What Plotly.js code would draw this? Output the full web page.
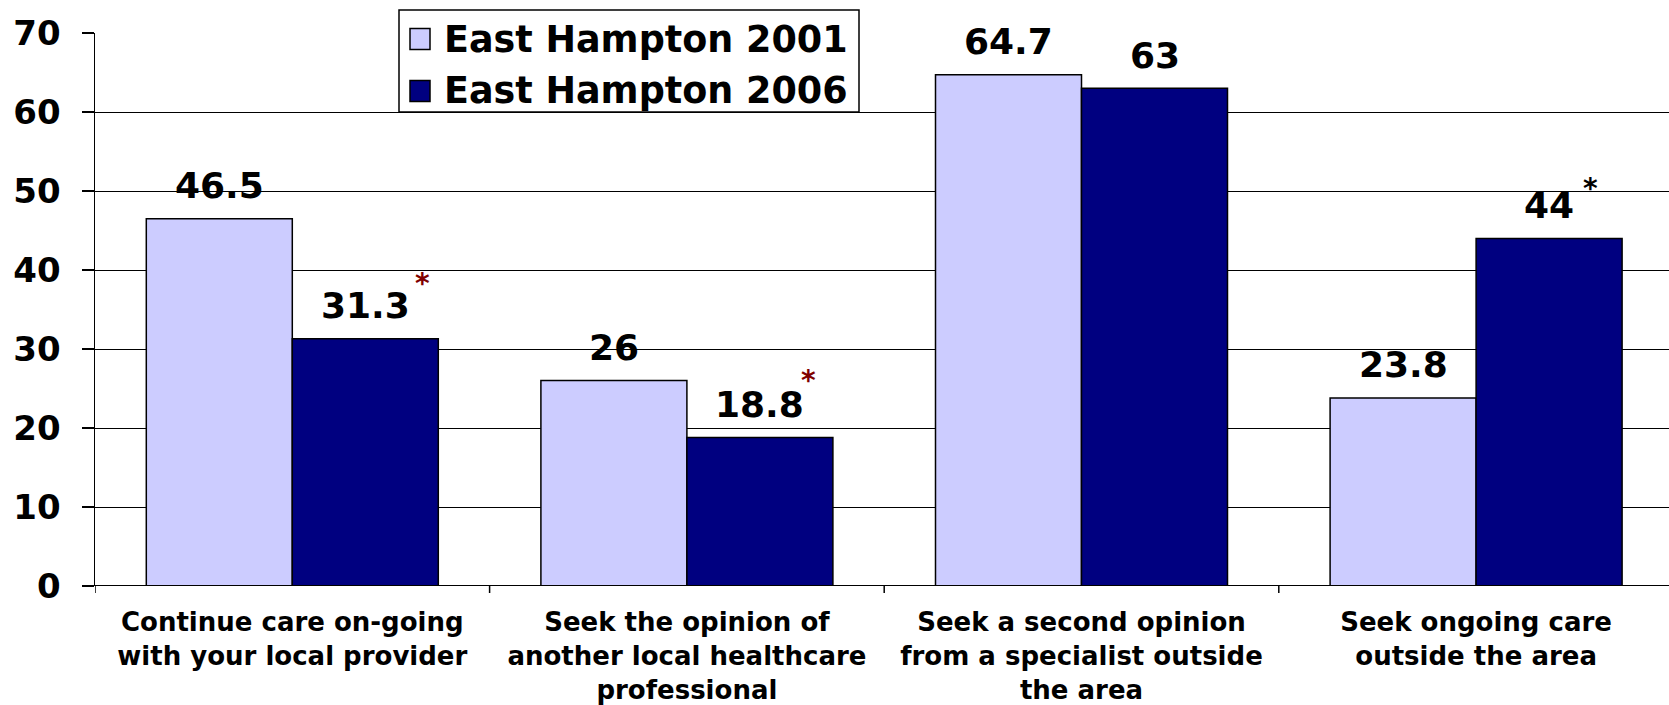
<!DOCTYPE html>
<html>
<head>
<meta charset="utf-8">
<script src="https://cdn.plot.ly/plotly-3.0.1.min.js"></script>
<style>html,body{margin:0;padding:0;background:#fff;}#chart{width:1669px;height:705px;}</style>
</head>
<body>
<div id="chart"></div>
<script>
const categories = [
  "Continue care on-going<br>with your local provider",
  "Seek the opinion of<br>another local healthcare<br>professional",
  "Seek a second opinion<br>from a specialist outside<br>the area",
  "Seek ongoing care<br>outside the area"
];
const seriesNames = ["East Hampton 2001", "East Hampton 2006"];
const values2001 = [46.5, 26, 64.7, 23.8];
const values2006 = [31.3, 18.8, 63, 44];
const labels2001 = ["46.5", "26", "64.7", "23.8"];
const labels2006 = ["31.3", "18.8", "63", "44"];
const sig2006 = [true, true, false, true];
const sigColors2006 = ["#800000", "#800000", null, "#000000"];
const yTicks = [0, 10, 20, 30, 40, 50, 60, 70];
const seriesColors = ["#CCCCFF", "#000080"];

const FONT = "DejaVu Sans, Verdana, sans-serif";
const bargap = 0.26;
const barW = (1 - bargap) / 2;
const idx = categories.map((_, i) => i);

const traces = [values2001, values2006].map((vals, s) => ({
  type: "bar",
  name: seriesNames[s],
  x: idx,
  y: vals,
  marker: { color: seriesColors[s], line: { color: "#000", width: 1.5 } },
  showlegend: false,
  hoverinfo: "skip"
}));

const annotations = [];
[[values2001, labels2001, -1], [values2006, labels2006, 1]].forEach(([vals, labs, side]) => {
  vals.forEach((v, i) => {
    annotations.push({
      x: i + side * barW / 2, y: v, xref: "x", yref: "y",
      text: labs[i], showarrow: false,
      xanchor: "center", yanchor: "middle", yshift: 33,
      font: { family: FONT, size: 36, color: "#000", weight: "bold" }
    });
  });
});
const astShift = [[57, 63], [49, 65], null, [41, 58]];
sig2006.forEach((sg, i) => {
  if (!sg) return;
  annotations.push({
    x: i + barW / 2, y: values2006[i], xref: "x", yref: "y",
    text: "*", showarrow: false,
    xanchor: "center", yanchor: "middle",
    xshift: astShift[i][0], yshift: astShift[i][1] - 8,
    font: { family: FONT, size: 28, color: sigColors2006[i], weight: "bold" }
  });
});

// custom legend (pixel -> paper conversion)
const L = 95, PW = 1574, T = 33, PH = 553;
const px = p => (p - L) / PW;
const py = p => (T + PH - p) / PH;
const shapes = [{
  type: "rect", xref: "paper", yref: "paper",
  x0: px(399), x1: px(859), y0: py(112), y1: py(10),
  fillcolor: "#fff", line: { color: "#000", width: 1.5 }, layer: "above"
}];
const rowY = [39, 91];
seriesNames.forEach((nm, s) => {
  shapes.push({
    type: "rect", xref: "paper", yref: "paper",
    x0: px(410), x1: px(430), y0: py(rowY[s] + 10.5), y1: py(rowY[s] - 10.5),
    fillcolor: seriesColors[s], line: { color: "#000", width: 1.5 }, layer: "above"
  });
  annotations.push({
    x: px(442), y: py(rowY[s]), xref: "paper", yref: "paper",
    text: nm, showarrow: false, xanchor: "left", yanchor: "middle",
    font: { family: FONT, size: 36.5, color: "#000", weight: "bold" }
  });
});

const layout = {
  width: 1669, height: 705,
  margin: { l: L, r: 0, t: T, b: 705 - T - PH },
  paper_bgcolor: "#fff", plot_bgcolor: "#fff",
  barmode: "group", bargap: bargap, bargroupgap: 0,
  showlegend: false,
  font: { family: FONT, color: "#000" },
  xaxis: {
    type: "linear",
    range: [-0.5, -0.5 + PW / 394.6],
    tickvals: idx, ticktext: categories,
    ticks: "", showgrid: false, zeroline: false,
    showline: false,
    tickfont: { family: FONT, size: 26, color: "#000", weight: "bold" },
    ticklabelstandoff: 18
  },
  yaxis: {
    range: [0, 70], tickvals: yTicks,
    showgrid: true, gridcolor: "#000", gridwidth: 1,
    zeroline: false, showline: true, linecolor: "#000", linewidth: 1.5,
    ticks: "outside", ticklen: 12, tickcolor: "#000", tickwidth: 1.5,
    tickfont: { family: FONT, size: 34, color: "#000", weight: "bold" },
    ticklabelstandoff: 14
  },
  shapes: shapes.concat(
    [{ type: "line", xref: "paper", yref: "y", x0: 0, x1: 1, y0: 0, y1: 0, line: { color: "#000", width: 2 } }],
    [0, 1, 2, 3].map(b => ({
      type: "line", xref: "x", yref: "paper", x0: b - 0.5, x1: b - 0.5, y0: 0, y1: -7 / PH,
      line: { color: "#000", width: 1.5 }
    }))
  ),
  annotations: annotations
};

Plotly.newPlot("chart", traces, layout, { displayModeBar: false, staticPlot: true });
</script>
</body>
</html>
